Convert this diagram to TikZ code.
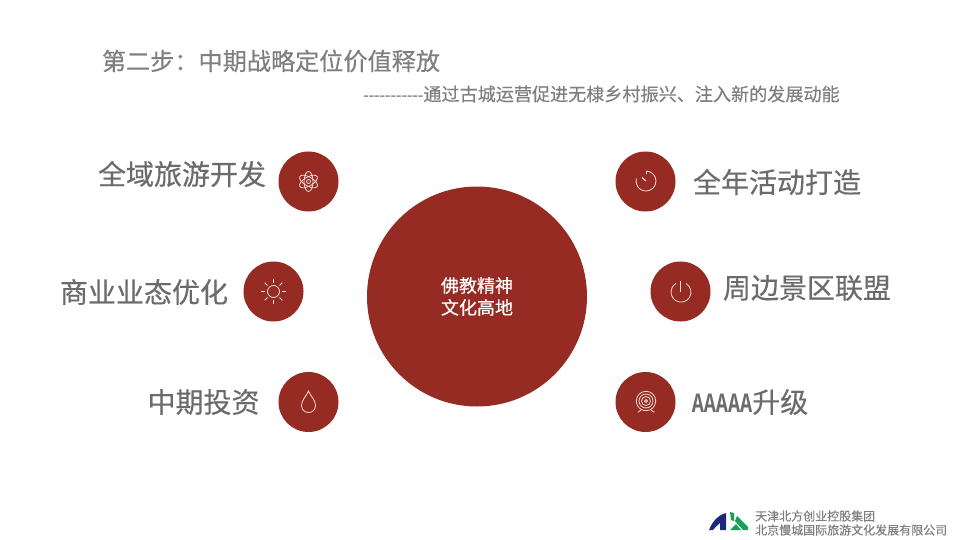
\documentclass[tikz,border=0pt]{standalone}
\usepackage{fontspec}
\setmainfont[FakeBold=0.4]{Noto Sans CJK SC}
\newfontfamily\dashfont{Liberation Serif}
\newfontfamily\narrowfont[FakeStretch=0.72]{Liberation Mono}
\definecolor{brick}{HTML}{952B23}
\definecolor{icon}{HTML}{F3DDD9}
\definecolor{title}{HTML}{7F7F7F}
\definecolor{label}{HTML}{6B6B6B}
\definecolor{navy}{HTML}{1B2A7B}
\definecolor{leaf}{HTML}{16A05A}
\tikzset{
    hub/.style={circle,fill=brick,inner sep=0pt,minimum size=220pt},
    badge/.style={circle,fill=brick,inner sep=0pt,minimum size=60pt},
    tag/.style={text=label,inner sep=0pt,font=\fontsize{28}{28}\selectfont},
    glyph/.style={draw=icon,line width=0.8pt,fill=none},
    footer/.style={text=title,inner sep=0pt,anchor=west,font=\fontsize{12}{12}\selectfont}
}
\begin{document}
\begin{tikzpicture}[x=1pt,y=-1pt]
    \useasboundingbox (0,0) rectangle (960,540);

    \node (heading) at (271,61)[text=title,inner sep=0pt,font=\fontsize{24.15}{24}\selectfont]{第二步：中期战略定位价值释放};
    \node (subheading) at (601.5,94)[text=title,inner sep=0pt,font=\fontsize{18.1}{18}\selectfont]{{\dashfont\bfseries\fontsize{16.4}{18}\selectfont -----------}通过古城运营促进无棣乡村振兴、注入新的发展动能};

    \node (center) at (477,296.5)[hub,text=white,align=center,font=\fontsize{18}{22}\selectfont]{佛教精神\\文化高地};

    \node (atom) at (308.5,181.5)[badge]{};
    \node (sun) at (273.5,291.5)[badge]{};
    \node (drop) at (308.5,402)[badge]{};
    \node (timer) at (645.5,181.5)[badge]{};
    \node (power) at (680.5,291.5)[badge]{};
    \node (target) at (645.5,402)[badge]{};

    \node (tourism) at (182,174)[tag]{全域旅游开发};
    \node (business) at (144,292)[tag]{商业业态优化};
    \node (invest) at (203.5,402)[tag]{中期投资};
    \node (events) at (777,182)[tag]{全年活动打造};
    \node (alliance) at (807,288)[tag]{周边景区联盟};
    \node (upgrade) at (750,402)[tag]{{\narrowfont\bfseries AAAAA}升级};

    \begin{scope}[shift={(atom)}]
        \foreach \a in {30,90,150}
            \draw[glyph,rotate=\a] (0,0) ellipse (10 and 4.5);
        \draw[glyph] (0,0) circle (2);
    \end{scope}

    \begin{scope}[shift={(sun)}]
        \draw[glyph] (0,0) circle (6);
        \foreach \a in {0,45,...,315}
            \draw[glyph] (\a:8.5) -- (\a:12.5);
    \end{scope}

    \begin{scope}[shift={(drop)}]
        \draw[glyph] (0,-11) .. controls (2,-6) and (7,-2) .. (7,3.5) .. controls (7,7.5) and (4,10.5) .. (0,10.5) .. controls (-4,10.5) and (-7,7.5) .. (-7,3.5) .. controls (-7,-2) and (-2,-6) .. (0,-11) -- cycle;
    \end{scope}

    \begin{scope}[shift={(timer)}]
        \draw[glyph] (0.5,-10.5) arc[start angle=-90,end angle=195,radius=10];
        \draw[glyph] (0.5,-10.5) -- (0.5,-7.5);
        \draw[glyph,line width=1.2pt] (0.5,-0.5) -- (-3.5,-4);
    \end{scope}

    \begin{scope}[shift={(power)}]
        \draw[glyph] (5.5,-8) arc[start angle=-60,end angle=240,radius=10];
        \draw[glyph] (0,-11) -- (0,0);
    \end{scope}

    \begin{scope}[shift={(target)}]
        \foreach \r in {1.5,4.5,7,9.7}
            \draw[glyph] (0.5,-1) circle (\r);
        \draw[glyph] (-4,7.5) -- (-7,10) -- (-8,10);
        \draw[glyph] (5,7.5) -- (8,10) -- (9,10);
    \end{scope}

    \fill[navy] (709,530) .. controls (712,522) and (718,515) .. (726,513) -- (726,530) -- (720,530) -- (720,523) .. controls (717,525) and (715,528) .. (713,530) -- cycle;
    \fill[leaf] (730,512) -- (734,513) -- (734,521) -- (731,520) -- cycle;
    \fill[leaf] (737,516) -- (748,527) -- (748,530) -- (743,530) -- (735,521) -- cycle;
    \fill[leaf] (730,530) -- (736,524) -- (741,530) -- cycle;

    \node (groupname) at (755,516)[footer]{天津北方创业控股集团};
    \node (companyname) at (755,530)[footer]{北京慢城国际旅游文化发展有限公司};
\end{tikzpicture}
\end{document}
